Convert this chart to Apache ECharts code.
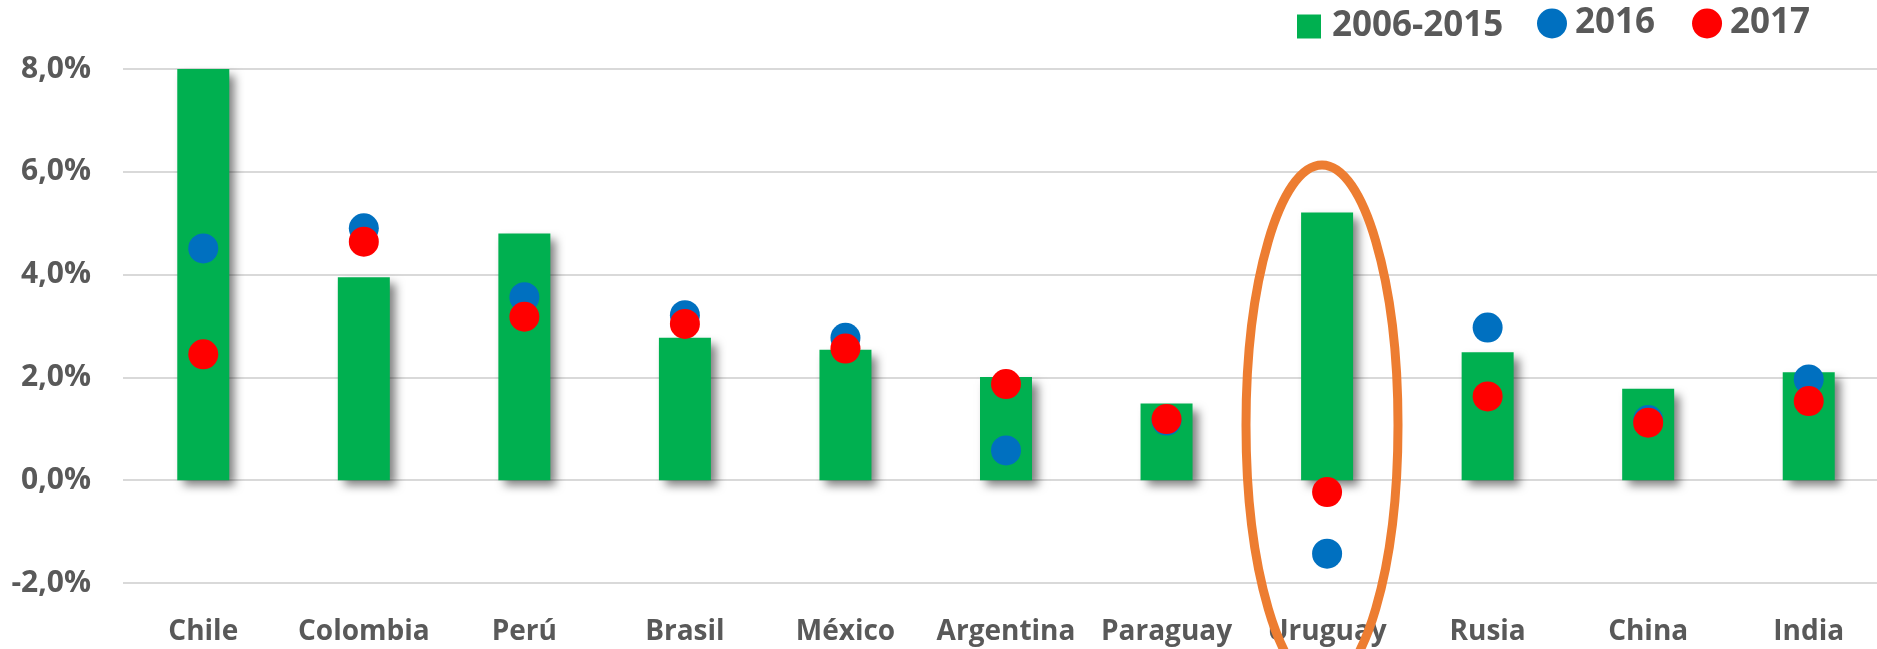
<!DOCTYPE html>
<html>
<head>
<meta charset="utf-8">
<script src="https://cdn.jsdelivr.net/npm/echarts@6/dist/echarts.min.js"></script>
<style>
html,body{margin:0;padding:0;background:#fff;overflow:hidden;width:1877px;height:649px;}
#chart{width:1890px;height:649px;}
</style>
</head>
<body>
<div id="chart"></div>
<script>
const categories = ['Chile','Colombia','Perú','Brasil','México','Argentina','Paraguay','Uruguay','Rusia','China','India'];
const avg2006_2015 = [8.0, 3.95, 4.80, 2.77, 2.54, 2.01, 1.49, 5.21, 2.49, 1.78, 2.10];
const y2016 = [4.51, 4.90, 3.56, 3.21, 2.77, 0.58, 1.16, -1.43, 2.97, 1.17, 1.96];
const y2017 = [2.45, 4.64, 3.18, 3.04, 2.56, 1.87, 1.19, -0.23, 1.63, 1.12, 1.54];
const yTicks = {min: -2, max: 8, interval: 2};

const FONT = '"Open Sans", sans-serif';
const TXT = '#595959';

const chart = echarts.init(document.getElementById('chart'), null, {renderer: 'canvas'});
chart.setOption({
  animation: false,
  backgroundColor: '#ffffff',
  grid: {left: 123, top: 69, width: 1766, bottom: 66, containLabel: false},
  legend: [
    {
      data: [{name: '2006-2015', icon: 'rect'}],
      left: 1292, top: 4,
      itemWidth: 24, itemHeight: 24,
      textStyle: {fontFamily: FONT, fontWeight: 'bold', fontSize: 35, color: TXT, padding: [0,0,0,6]}
    },
    {
      data: [{name: '2016', icon: 'circle'}, {name: '2017', icon: 'circle'}],
      left: 1532, top: 1,
      itemWidth: 30, itemHeight: 30, itemGap: 37,
      textStyle: {fontFamily: FONT, fontWeight: 'bold', fontSize: 35, color: TXT, padding: [0,0,0,3]}
    }
  ],
  xAxis: {
    type: 'category',
    data: categories,
    axisLine: {show: false},
    axisTick: {show: false},
    axisLabel: {fontFamily: FONT, fontWeight: 'bold', fontSize: 28, color: TXT, margin: 35, interval: 0}
  },
  yAxis: {
    type: 'value',
    min: yTicks.min, max: yTicks.max, interval: yTicks.interval,
    axisLine: {show: false},
    axisTick: {show: false},
    splitLine: {lineStyle: {color: '#D9D9D9', width: 2}},
    axisLabel: {
      fontFamily: FONT, fontWeight: 'bold', fontSize: 30, color: TXT, margin: 32,
      formatter: v => v.toFixed(1).replace('.', ',') + '%'
    }
  },
  series: [
    {
      name: '2006-2015', type: 'bar', data: avg2006_2015, barWidth: 52, z: 2,
      itemStyle: {color: '#00B050', shadowColor: 'rgba(0,0,0,0.5)', shadowBlur: 9, shadowOffsetX: 6, shadowOffsetY: 6}
    },
    {
      name: '2016', type: 'scatter', data: y2016, symbol: 'circle', symbolSize: 30, z: 3,
      itemStyle: {color: '#0070C0', opacity: 1}
    },
    {
      name: '2017', type: 'scatter', data: y2017, symbol: 'circle', symbolSize: 30, z: 4,
      itemStyle: {color: '#FF0000', opacity: 1}
    }
  ],
  graphic: [
    {
      type: 'ellipse', z: 100,
      shape: {cx: 1322, cy: 425, rx: 76, ry: 260},
      style: {fill: null, stroke: '#ED7D31', lineWidth: 9}
    }
  ]
});
</script>
</body>
</html>
